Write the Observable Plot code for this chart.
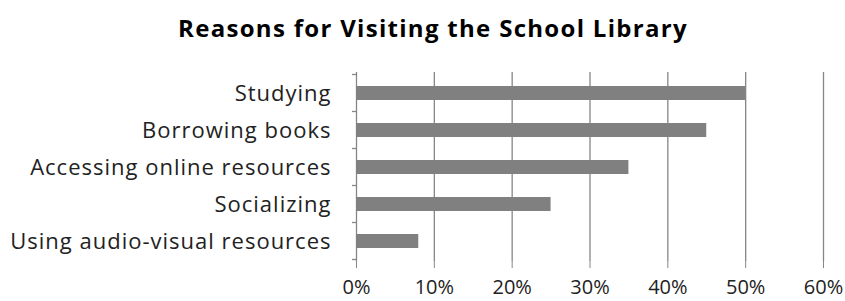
<!DOCTYPE html>
<html>
<head>
<meta charset="utf-8">
<script src="https://cdn.jsdelivr.net/npm/d3@7"></script>
<script src="https://cdn.jsdelivr.net/npm/@observablehq/plot@0.6"></script>
<style>
  html, body { margin: 0; padding: 0; background: #fff; }
  #title { box-sizing: border-box; width: 845px; height: 60px; line-height: 56px; padding-left: 21px; text-align: center;
    font-family: "Open Sans", sans-serif; font-weight: bold; font-size: 24px; letter-spacing: 1.3px; color: #000; }
  #chart svg { display: block; }
</style>
</head>
<body>
<div id="title">Reasons for Visiting the School Library</div>
<div id="chart"></div>
<script>
const categories = ["Studying", "Borrowing books", "Accessing online resources", "Socializing", "Using audio-visual resources"];
const values = [0.50, 0.45, 0.35, 0.25, 0.08];
const xTicks = [0, 0.1, 0.2, 0.3, 0.4, 0.5, 0.6];

const data = categories.map((c, i) => ({category: c, value: values[i]}));
const gridColor = "#868686";

// boundary ticks on the category axis (Excel-style, between categories)
function categoryBoundaryTicks(index, scales, values, dims) {
  const g = d3.create("svg:g").attr("aria-label", "category boundary ticks");
  const y = scales.y;
  const bw = typeof y.bandwidth === "function" ? y.bandwidth() : y.bandwidth;
  const step = y(categories[1]) - y(categories[0]);
  const x0 = scales.x(0);
  const bounds = categories.map(c => y(c) + bw / 2 - step / 2);
  bounds.push(y(categories[categories.length - 1]) + bw / 2 + step / 2);
  bounds.forEach(b => {
    g.append("line")
      .attr("x1", x0 - 4).attr("x2", x0)
      .attr("y1", b).attr("y2", b)
      .attr("stroke", gridColor).attr("stroke-width", 1.3);
  });
  return g.node();
}

const chart = Plot.plot({
  width: 845,
  height: 241,
  marginTop: 12,
  marginBottom: 40,
  marginLeft: 356,
  marginRight: 22,
  style: {fontFamily: "Open Sans, sans-serif", fontSize: "20px", color: "#222", background: "#fff"},
  x: {domain: [0, 0.6]},
  y: {domain: categories, paddingInner: 0.63, paddingOuter: 0.315},
  marks: [
    Plot.ruleX(xTicks, {x: d => d, stroke: gridColor, strokeWidth: 1.3, strokeOpacity: 1}),
    Plot.barX(data, {x: "value", y: "category", fill: "#808080"}),
    Plot.ruleY([0], {frameAnchor: "bottom", stroke: gridColor, strokeWidth: 1.3}),
    Plot.axisX({ticks: xTicks, tickFormat: d3.format(".0%"), tickSize: 7, tickPadding: 11, stroke: gridColor, strokeOpacity: 1, label: null, fontSize: 20}),
    Plot.axisY({tickSize: 0, tickPadding: 25, label: null, fontSize: 22, textAnchor: "end"}),
    categoryBoundaryTicks
  ]
});
d3.select(chart).selectAll('g[aria-label="y-axis tick label"]').style("letter-spacing", "1px");
document.getElementById("chart").appendChild(chart);
</script>
</body>
</html>
